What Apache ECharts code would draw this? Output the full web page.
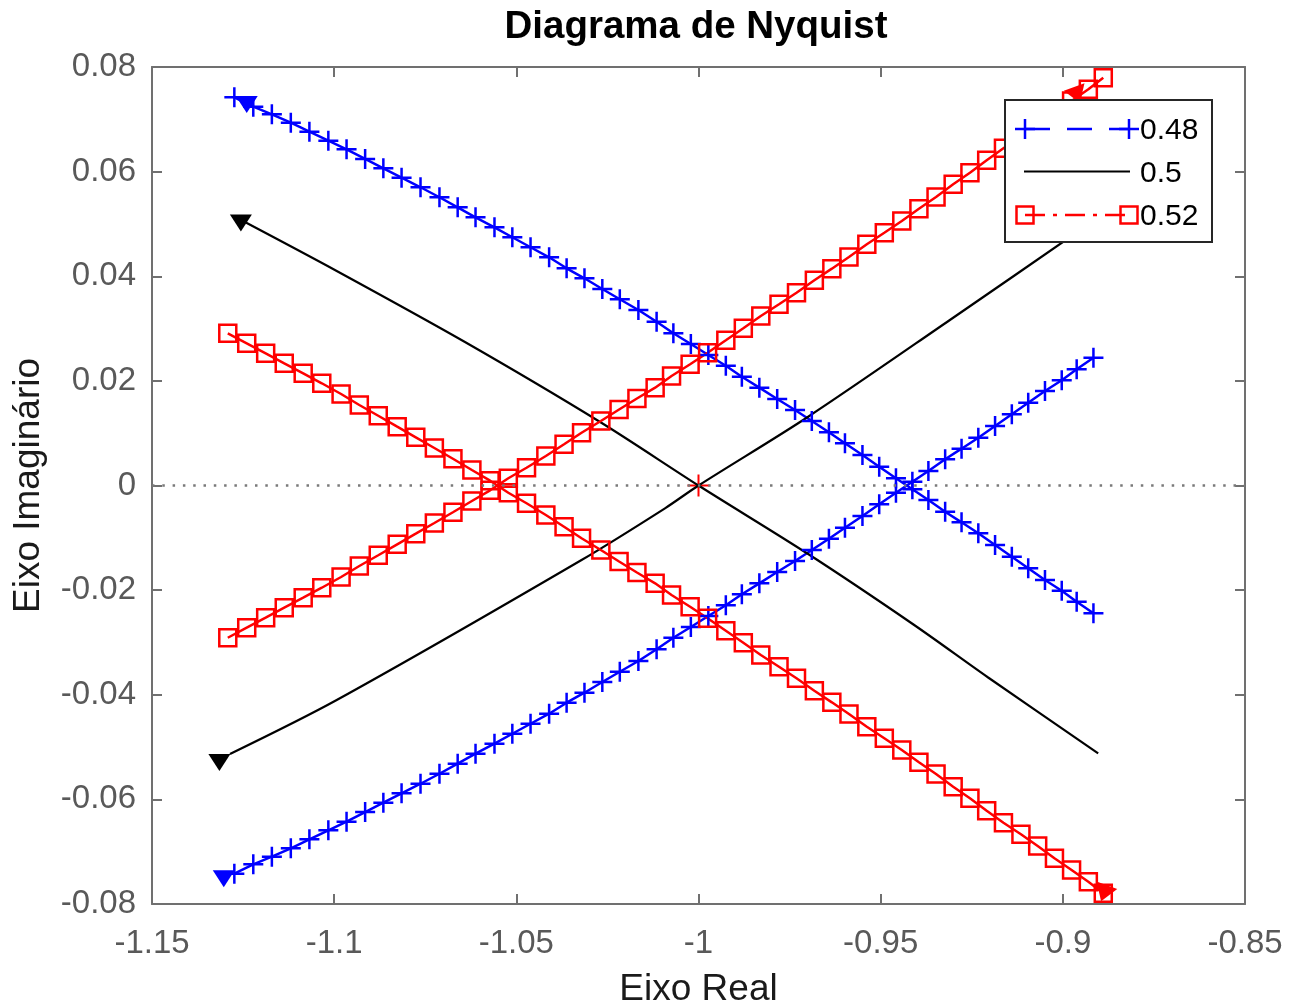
<!DOCTYPE html>
<html>
<head>
<meta charset="utf-8">
<title>Diagrama de Nyquist</title>
<script src="https://cdn.jsdelivr.net/npm/echarts@6/dist/echarts.min.js"></script>
<style>
  html, body { margin: 0; padding: 0; background: #ffffff; }
  #chart { width: 1295px; height: 1005px; }
</style>
</head>
<body>
<div id="chart"></div>
<script>
// Axis ranges and tick labels
const xMin = -1.15, xMax = -0.85, xStep = 0.05;
const yMin = -0.08, yMax = 0.08, yStep = 0.02;
const xTickLabels = ['-1.15', '-1.1', '-1.05', '-1', '-0.95', '-0.9', '-0.85'];
const yTickLabels = ['-0.08', '-0.06', '-0.04', '-0.02', '0', '0.02', '0.04', '0.06', '0.08'];

const seriesNames = ['0.48', '0.5', '0.52'];

// Parameter 0.48 – positive-frequency branch (real, imaginary)
const blueX = [-1.1274, -1.1222, -1.1171, -1.1119, -1.1068, -1.1016, -1.0966, -1.0915, -1.0865, -1.0815,
               -1.0763, -1.0711, -1.0661, -1.0612, -1.0560, -1.0511, -1.0461, -1.0410, -1.0362, -1.0313,
               -1.0264, -1.0216, -1.0165, -1.0115, -1.0069, -1.0021, -0.9973, -0.9925, -0.9881, -0.9833,
               -0.9784, -0.9735, -0.9689, -0.9642, -0.9598, -0.9550, -0.9504, -0.9458, -0.9413, -0.9369,
               -0.9323, -0.9278, -0.9232, -0.9186, -0.9140, -0.9095, -0.9049, -0.9003, -0.8962, -0.8916];
const blueY = [0.07421, 0.07241, 0.07096, 0.06936, 0.06764, 0.06591, 0.06427, 0.06242, 0.06064, 0.05884,
               0.05701, 0.05510, 0.05318, 0.05127, 0.04936, 0.04745, 0.04554, 0.04362, 0.04152, 0.03961,
               0.03757, 0.03560, 0.03355, 0.03131, 0.02910, 0.02705, 0.02495, 0.02290, 0.02080, 0.01870,
               0.01654, 0.01443, 0.01233, 0.01017, 0.00807, 0.00583, 0.00359, 0.00138, -0.00073, -0.00277,
               -0.00501, -0.00704, -0.00914, -0.01137, -0.01361, -0.01583, -0.01807, -0.02011, -0.02221, -0.02443];

// Parameter 0.5 – both branches
const blackUpX = [-1.1245, -1.0993, -1.0641, -1.0270, -1.0000, -0.9699, -0.9410, -0.9205, -0.8903];
const blackUpY = [0.05037, 0.04101, 0.02743, 0.01214, 0, -0.01310, -0.02657, -0.03670, -0.05120];
const blackLowX = [-1.1286, -1.0993, -1.0321, -1.0092, -1.0000, -0.9699, -0.9310, -0.8903];
const blackLowY = [-0.05133, -0.04101, -0.01424, -0.00436, 0, 0.01315, 0.03164, 0.05120];

// Parameter 0.52 – positive-frequency branch
const redX = [-1.1292, -1.1240, -1.1188, -1.1137, -1.1085, -1.1034, -1.0981, -1.0931, -1.0879, -1.0827,
              -1.0776, -1.0725, -1.0674, -1.0622, -1.0572, -1.0522, -1.0472, -1.0419, -1.0369, -1.0321,
              -1.0268, -1.0218, -1.0169, -1.0119, -1.0074, -1.0023, -0.9975, -0.9925, -0.9877, -0.9829,
              -0.9779, -0.9731, -0.9682, -0.9634, -0.9587, -0.9538, -0.9490, -0.9442, -0.9395, -0.9348,
              -0.9301, -0.9255, -0.9209, -0.9163, -0.9115, -0.9069, -0.9023, -0.8976, -0.8930, -0.8889];
const redY = [0.02910, 0.02718, 0.02527, 0.02336, 0.02145, 0.01954, 0.01749, 0.01539, 0.01334, 0.01124,
              0.00921, 0.00717, 0.00512, 0.00296, 0.00092, -0.00138, -0.00340, -0.00564, -0.00788, -0.01009,
              -0.01233, -0.01453, -0.01663, -0.01870, -0.02093, -0.02317, -0.02539, -0.02776, -0.03005, -0.03240,
              -0.03464, -0.03686, -0.03923, -0.04145, -0.04368, -0.04611, -0.04833, -0.05056, -0.05292, -0.05515,
              -0.05758, -0.05980, -0.06217, -0.06446, -0.06668, -0.06892, -0.07127, -0.07350, -0.07574, -0.07796];

// Direction arrows: [real, imaginary, rotation]
const blueArrows = [[-1.1240, 0.07284, 180], [-1.1303, -0.07519, 180]];
const blackArrows = [[-1.1256, 0.05018, 180], [-1.1315, -0.05295, 180]];
const redArrows = [[-0.8961, 0.07465, 200], [-0.8887, -0.07796, 160]];

// Critical point -1 + 0j
const criticalPoint = [[-1, 0]];

const BLUE = '#0000ff', BLACK = '#000000', RED = '#ff0000';
const FONT = '"Liberation Sans", Arial, Helvetica, sans-serif';
const AXIS_GRAY = '#707070';

const plusPath = 'path://M10,0L10,20M0,10L20,10';
const squarePath = 'path://M0,0L20,0L20,20L0,20Z';

const zip = (xs, ys) => xs.map((x, i) => [x, ys[i]]);
// Negative-frequency branch is the complex conjugate of the positive one
const conj = (xs, ys) => xs.map((x, i) => [x, -ys[i]]);

function markerLine(data, color, symbol, size) {
  return {
    type: 'line',
    data: data,
    symbol: symbol,
    symbolSize: size,
    showSymbol: true,
    lineStyle: { color: color, width: 2.5 },
    itemStyle: { color: 'rgba(0,0,0,0)', borderColor: color, borderWidth: 2.5, opacity: 1 },
    silent: true,
    animation: false,
    z: 3
  };
}
function plainLine(data, color) {
  return {
    type: 'line', data: data, symbol: 'none', smooth: 0.3,
    lineStyle: { color: color, width: 2.2 },
    silent: true, animation: false, z: 3
  };
}
function arrows(list, color) {
  return {
    type: 'scatter',
    data: list.map(a => ({ value: [a[0], a[1]], symbolRotate: a[2] })),
    symbol: 'triangle',
    symbolSize: [22, 17],
    itemStyle: { color: color, opacity: 1 },
    silent: true, animation: false, z: 4
  };
}

const xFmt = v => xTickLabels[Math.round((v - xMin) / xStep)] ?? '';
const yFmt = v => yTickLabels[Math.round((v - yMin) / yStep)] ?? '';

function axisCommon(extra) {
  return Object.assign({
    type: 'value',
    axisLine: { show: true, onZero: false, lineStyle: { color: AXIS_GRAY, width: 2 } },
    axisTick: { show: true, inside: true, length: 10, lineStyle: { color: AXIS_GRAY, width: 2 } },
    splitLine: { show: false }
  }, extra);
}

// Legend drawn as graphics so each entry shows its line style with markers at both ends
const LX0 = 1025, LX1 = 1129, LTX = 1140;
const rowsY = [129, 171.5, 215];
const legendGraphics = [
  { type: 'rect', shape: { x: 1005, y: 100, width: 207, height: 142 },
    style: { fill: '#ffffff', stroke: '#262626', lineWidth: 2 }, z: 100 },
  // 0.48
  { type: 'line', shape: { x1: LX0, y1: rowsY[0], x2: LX1, y2: rowsY[0] },
    style: { stroke: BLUE, lineWidth: 2.5, lineDash: [25, 17] }, z: 101 },
  { type: 'line', shape: { x1: LX0 - 10, y1: rowsY[0], x2: LX0 + 10, y2: rowsY[0] }, style: { stroke: BLUE, lineWidth: 2.5 }, z: 101 },
  { type: 'line', shape: { x1: LX0, y1: rowsY[0] - 10, x2: LX0, y2: rowsY[0] + 10 }, style: { stroke: BLUE, lineWidth: 2.5 }, z: 101 },
  { type: 'line', shape: { x1: LX1 - 10, y1: rowsY[0], x2: LX1 + 10, y2: rowsY[0] }, style: { stroke: BLUE, lineWidth: 2.5 }, z: 101 },
  { type: 'line', shape: { x1: LX1, y1: rowsY[0] - 10, x2: LX1, y2: rowsY[0] + 10 }, style: { stroke: BLUE, lineWidth: 2.5 }, z: 101 },
  // 0.5
  { type: 'line', shape: { x1: LX0 - 1, y1: rowsY[1], x2: LX1 + 1, y2: rowsY[1] },
    style: { stroke: BLACK, lineWidth: 2.2 }, z: 101 },
  // 0.52
  { type: 'line', shape: { x1: LX0, y1: rowsY[2], x2: LX1, y2: rowsY[2] },
    style: { stroke: RED, lineWidth: 2.5, lineDash: [20, 8, 4, 8] }, z: 101 },
  { type: 'rect', shape: { x: LX0 - 8.5, y: rowsY[2] - 8.5, width: 17, height: 17 },
    style: { fill: 'none', stroke: RED, lineWidth: 2.5 }, z: 101 },
  { type: 'rect', shape: { x: LX1 - 8.5, y: rowsY[2] - 8.5, width: 17, height: 17 },
    style: { fill: 'none', stroke: RED, lineWidth: 2.5 }, z: 101 }
].concat(seriesNames.map((name, i) => ({
  type: 'text', x: LTX, y: rowsY[i] + 2,
  style: { text: name, fill: '#000000', font: '30px ' + FONT, textVerticalAlign: 'middle', textAlign: 'left' },
  z: 102
})));

const chart = echarts.init(document.getElementById('chart'), null, { renderer: 'canvas' });
chart.setOption({
  backgroundColor: '#ffffff',
  animation: false,
  title: {
    text: 'Diagrama de Nyquist',
    left: 691, top: 3, textAlign: 'center',
    textStyle: { fontFamily: FONT, fontSize: 38.5, fontWeight: 'bold', color: '#000000' }
  },
  grid: { left: 152, right: 50, top: 67, bottom: 101, containLabel: false, outerBoundsMode: 'none' },
  xAxis: [
    axisCommon({
      min: xMin, max: xMax, interval: xStep, position: 'bottom',
      axisLabel: { fontSize: 33, fontFamily: FONT, color: '#595959', margin: 23, formatter: xFmt },
      name: 'Eixo Real', nameLocation: 'middle', nameGap: 67,
      nameTextStyle: { fontSize: 37, fontFamily: FONT, color: '#1a1a1a' }
    }),
    axisCommon({ min: xMin, max: xMax, interval: xStep, position: 'top', axisLabel: { show: false } })
  ],
  yAxis: [
    axisCommon({
      min: yMin, max: yMax, interval: yStep, position: 'left',
      axisLabel: { fontSize: 33, fontFamily: FONT, color: '#595959', margin: 16, formatter: yFmt },
      name: 'Eixo Imaginário', nameLocation: 'middle', nameGap: 105,
      nameTextStyle: { fontSize: 37, fontFamily: FONT, color: '#1a1a1a' }
    }),
    axisCommon({ min: yMin, max: yMax, interval: yStep, position: 'right', axisLabel: { show: false } })
  ],
  graphic: legendGraphics,
  series: [
    {
      type: 'scatter', data: criticalPoint, symbol: plusPath, symbolSize: 22,
      itemStyle: { color: 'rgba(0,0,0,0)', borderColor: RED, borderWidth: 2, opacity: 1 },
      silent: true, animation: false, z: 2,
      markLine: {
        silent: true, symbol: 'none', animation: false,
        label: { show: false },
        lineStyle: { color: '#7a7a7a', width: 2.5, type: [2.5, 7.8] },
        data: [{ yAxis: 0 }]
      }
    },
    markerLine(zip(blueX, blueY), BLUE, plusPath, 20),
    markerLine(conj(blueX, blueY), BLUE, plusPath, 20),
    arrows(blueArrows, BLUE),
    plainLine(zip(blackUpX, blackUpY), BLACK),
    plainLine(zip(blackLowX, blackLowY), BLACK),
    arrows(blackArrows, BLACK),
    markerLine(zip(redX, redY), RED, squarePath, 17),
    markerLine(conj(redX, redY), RED, squarePath, 17),
    arrows(redArrows, RED)
  ]
});
</script>
</body>
</html>
